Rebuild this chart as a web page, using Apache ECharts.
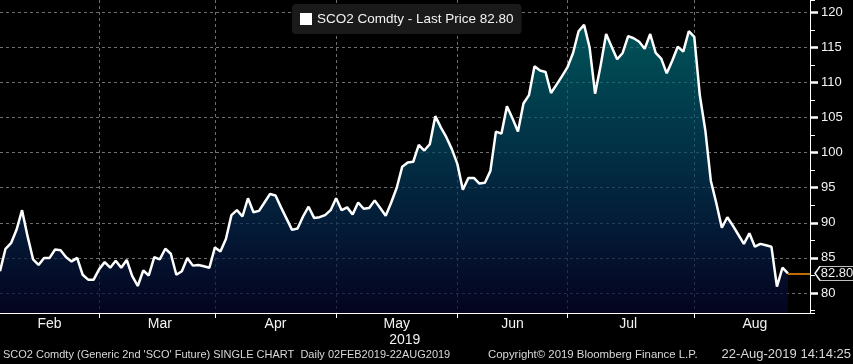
<!DOCTYPE html>
<html><head><meta charset="utf-8">
<script src="https://cdn.jsdelivr.net/npm/echarts@6/dist/echarts.min.js"></script>
<style>html,body{margin:0;padding:0;background:#000;}#c{width:853px;height:364px;}</style>
</head><body><div id="c"></div>
<script>
const seriesName = 'SCO2 Comdty - Last Price';
const prices = [
 83.1,86.3,87.1,89.0,91.8,88.1,84.8,84.0,85.0,85.0,
 86.2,86.1,85.1,84.5,85.0,82.6,81.9,81.9,83.4,84.4,
 83.6,84.6,83.6,84.7,82.4,81.0,83.2,82.5,85.1,84.8,
 86.3,85.6,82.6,83.1,85.0,83.9,84.0,83.8,83.6,86.5,
 85.9,87.7,91.1,91.8,90.9,93.5,91.5,91.7,92.9,94.1,
 93.9,92.2,90.6,89.0,89.2,90.9,92.3,90.7,90.8,91.1,
 91.8,93.5,91.8,92.2,91.2,92.9,92.0,92.1,93.2,92.1,
 91.0,92.9,95.0,98.0,98.6,98.7,101.1,100.3,101.2,105.2,
 103.6,102.2,100.5,98.4,94.7,96.4,96.4,95.6,95.7,97.4,
 103.0,102.7,106.6,104.9,103.0,107.0,108.2,112.3,111.7,111.5,
 108.5,109.7,110.9,112.2,114.2,117.3,118.2,115.0,108.4,112.4,
 116.9,115.1,113.3,114.2,116.6,116.3,115.8,114.8,116.9,114.2,
 113.4,111.3,113.1,115.1,114.4,117.3,116.5,108.2,103.2,96.0,
 92.8,89.3,90.8,89.6,88.3,87.0,88.5,86.6,87.0,86.8,
 86.6,80.9,83.6,82.8
];
const padCount = 4;
const monthTickIdx = [18, 39, 61, 83, 103, 126];
const monthLabelIdx = [9, 29, 50, 72, 93, 114, 137];
const monthLabels = ['Feb', 'Mar', 'Apr', 'May', 'Jun', 'Jul', 'Aug'];
const yearLabel = '2019';
const yearLabelMonth = 'May';
const yMin = 77.15, yMax = 121.75, yStep = 5, yMinorStep = 2.5;
const footerLeft = "SCO2 Comdty (Generic 2nd 'SCO' Future) SINGLE CHART  Daily 02FEB2019-22AUG2019";
const footerMid = 'Copyright\u00a9 2019 Bloomberg Finance L.P.';
const footerRight = '22-Aug-2019 14:14:25';

const FONT = "'Liberation Sans', Arial, sans-serif";
const total = prices.length + padCount;
const cats = [];
for (let i = 0; i < total; i++) cats.push(String(i));
const data = prices.concat(new Array(padCount).fill(null));
const lastIdx = prices.length - 1;
const last = prices[lastIdx];
const lastTxt = last.toFixed(2);
const fullName = seriesName + ' ' + lastTxt;

const chart = echarts.init(document.getElementById('c'), null, {renderer: 'canvas'});
chart.setOption({
  backgroundColor: '#000',
  animation: false,
  grid: {left: 0, right: 43, top: 0, bottom: 51, containLabel: false},
  legend: {
    data: [{name: fullName, icon: 'rect'}],
    left: 292, top: 4,
    backgroundColor: '#1a1a1a', borderRadius: 4,
    padding: [8, 8, 8, 8],
    itemWidth: 12, itemHeight: 12,
    itemStyle: {color: '#fff'},
    textStyle: {color: '#f2f2f2', fontSize: 13.5, fontFamily: FONT, lineHeight: 13},
    selectedMode: false
  },
  xAxis: {
    type: 'category', data: cats, boundaryGap: false,
    axisLine: {show: true, lineStyle: {color: '#fff', width: 1}},
    axisTick: {show: true, length: 5, lineStyle: {color: '#fff'},
      interval: (i) => monthTickIdx.indexOf(i) >= 0},
    axisLabel: {
      interval: (i) => monthLabelIdx.indexOf(i) >= 0,
      formatter: (v, i) => {
        const k = monthLabelIdx.indexOf(i);
        if (k < 0) return '';
        const m = monthLabels[k];
        return m === yearLabelMonth ? '{m|' + m + '}\n{y|' + yearLabel + '}' : m;
      },
      color: '#f2f2f2', fontSize: 14, fontFamily: FONT, margin: 3, lineHeight: 16,
      rich: {m: {color: '#f2f2f2', fontSize: 14, fontFamily: FONT, lineHeight: 16},
             y: {color: '#f2f2f2', fontSize: 14, fontFamily: FONT, lineHeight: 16, padding: [0, 0, 0, 16]}}
    },
    splitLine: {show: true, interval: (i) => monthTickIdx.indexOf(i) >= 0,
      lineStyle: {color: '#6e6e6e', type: [3, 3], width: 1}}
  },
  yAxis: [{
    type: 'value', position: 'right', min: yMin, max: yMax,
    minInterval: yStep, maxInterval: yStep, splitNumber: 9,
    axisLine: {show: true, lineStyle: {color: '#fff', width: 1}},
    axisTick: {show: true, length: 8, lineStyle: {color: '#fff', width: 2.5}},
    axisLabel: {color: '#f2f2f2', fontSize: 13, fontFamily: FONT, margin: 11,
      showMinLabel: false, showMaxLabel: false},
    splitLine: {show: true, showMinLine: false, showMaxLine: false,
      lineStyle: {color: '#6e6e6e', type: [3, 3], width: 1}}
  }, {
    type: 'value', position: 'right', min: yMin, max: yMax,
    minInterval: yMinorStep, maxInterval: yMinorStep, splitNumber: 18,
    axisLine: {show: false},
    axisTick: {show: true, length: 5, lineStyle: {color: '#fff', width: 1}},
    axisLabel: {show: false},
    splitLine: {show: false}
  }],
  series: [{
    type: 'line', name: fullName, data: data, yAxisIndex: 0,
    symbol: 'none', smooth: false,
    lineStyle: {color: '#fff', width: 2.5},
    itemStyle: {color: '#fff'},
    areaStyle: {color: new echarts.graphic.LinearGradient(0, 0, 0, 1, [
      {offset: 0, color: '#00767f'},
      {offset: 0.35, color: '#024f68'},
      {offset: 0.7, color: '#05264f'},
      {offset: 1, color: '#05062c'}
    ])},
    markLine: {
      silent: true, symbol: 'none', label: {show: false},
      lineStyle: {color: '#ff9000', width: 1.5, type: 'solid'},
      data: [[{coord: [lastIdx, last]}, {coord: [total - 1, last]}]]
    },
    markPoint: {
      silent: true,
      symbol: 'path://M0,7L5,0L42,0L42,14L5,14Z',
      symbolSize: [42, 14], symbolKeepAspect: false,
      symbolOffset: [26, 0],
      itemStyle: {color: '#000', borderColor: '#fff', borderWidth: 1},
      label: {show: true, position: 'inside', formatter: lastTxt, color: '#f2f2f2',
        fontSize: 13, fontFamily: FONT, offset: [1, 0]},
      data: [{coord: [total - 1, last]}]
    }
  }],
  graphic: [
    {type: 'text', left: 3, top: 349, style: {text: footerLeft, fill: '#d8d8d8', font: '11px ' + FONT}},
    {type: 'text', left: 488, top: 349, style: {text: footerMid, fill: '#d8d8d8', font: '11.4px ' + FONT}},
    {type: 'text', right: 2, top: 348, style: {text: footerRight, fill: '#d8d8d8', font: '13px ' + FONT}}
  ]
});
</script></body></html>
